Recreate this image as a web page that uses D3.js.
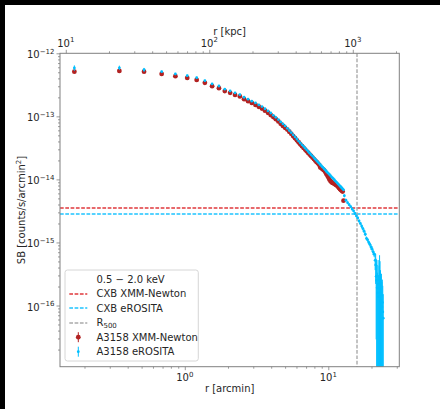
<!DOCTYPE html>
<html>
<head>
<meta charset="utf-8">
<script src="https://cdn.jsdelivr.net/npm/d3@7"></script>
<style>
  body { margin: 0; background: #fff; }
  svg { display: block; font-family: "DejaVu Sans", sans-serif; }
</style>
</head>
<body>
<svg id="chart" width="440" height="409"></svg>
<script>
// ---- surface brightness profile of A3158, 0.5-2.0 keV ----
// radii in arcmin, surface brightness in counts/s/arcmin^2, errors as fraction of value
const radiusXmm = [0.17,0.35,0.52,0.69,0.86,1.04,1.21,1.38,1.55,1.73,1.90,2.07,2.24,2.42,2.59,2.76,2.93,3.11,3.28,3.45,
  3.62,3.80,3.97,4.14,4.31,4.49,4.66,4.83,5.00,5.18,5.35,5.52,5.69,5.87,6.04,6.21,6.38,6.56,6.73,6.90,
  7.07,7.25,7.42,7.59,7.76,7.94,8.11,8.28,8.45,8.63,8.80,8.97,9.14,9.32,9.49,9.66,9.83,10.01,10.18,10.35,
  10.52,10.70,10.87,11.04,11.21,11.39,11.56,11.73,11.90,12.08,12.25,12.42,12.59,12.77];
const sbXmm = [5.12e-13,5.25e-13,5.12e-13,4.71e-13,4.34e-13,4.07e-13,3.78e-13,3.40e-13,3.01e-13,2.80e-13,
  2.52e-13,2.36e-13,2.19e-13,2.07e-13,1.87e-13,1.74e-13,1.63e-13,1.52e-13,1.42e-13,1.33e-13,
  1.23e-13,1.14e-13,1.05e-13,9.73e-14,9.02e-14,8.30e-14,7.60e-14,7.06e-14,6.58e-14,6.17e-14,
  5.70e-14,5.28e-14,4.86e-14,4.50e-14,4.17e-14,3.88e-14,3.60e-14,3.36e-14,3.16e-14,2.97e-14,
  2.79e-14,2.63e-14,2.48e-14,2.35e-14,2.22e-14,2.10e-14,1.99e-14,1.89e-14,1.80e-14,1.70e-14,
  1.55e-14,1.50e-14,1.45e-14,1.40e-14,1.33e-14,1.24e-14,1.16e-14,1.08e-14,1.00e-14,9.4e-15,
  9.1e-15,8.8e-15,8.7e-15,8.5e-15,8.3e-15,8.1e-15,7.9e-15,7.6e-15,7.3e-15,7.0e-15,
  6.8e-15,6.6e-15,6.4e-15,4.6e-15];
const errXmm = [0.02,0.02,0.02,0.02,0.02,0.02,0.02,0.02,0.02,0.02,0.02,0.02,0.02,0.02,0.02,0.02,0.02,0.02,0.02,0.02,
  0.02,0.02,0.02,0.02,0.02,0.02,0.02,0.02,0.02,0.02,0.02,0.02,0.02,0.02,0.02,0.02,0.02,0.02,0.02,0.02,
  0.02,0.02,0.02,0.02,0.02,0.02,0.02,0.02,0.02,0.02,0.03,0.03,0.03,0.03,0.03,0.03,0.03,0.03,0.03,0.03,
  0.03,0.03,0.05,0.05,0.05,0.05,0.05,0.05,0.05,0.05,0.05,0.05,0.05,0.05];

const radiusEro = radiusXmm.concat([12.94,13.28,13.63,13.97,14.32,14.66,15.01,15.35,15.70,16.04,
  16.39,16.73,17.08,17.42,17.77,18.11,18.46,18.80,19.15,19.49,19.84,20.18,20.53,20.87,
  21.21,21.39,21.56,21.73,21.90,22.08,22.25,22.42,22.59,22.77,22.94,23.11,23.28,23.46,23.63,23.80,23.97,24.15]);
const sbEro = [5.85e-13,5.89e-13,5.48e-13,5.11e-13,4.70e-13,4.42e-13,4.10e-13,3.68e-13,3.27e-13,3.03e-13,
  2.70e-13,2.53e-13,2.35e-13,2.21e-13,2.01e-13,1.87e-13,1.74e-13,1.63e-13,1.52e-13,1.43e-13,
  1.32e-13,1.22e-13,1.13e-13,1.04e-13,9.66e-14,8.89e-14,8.15e-14,7.57e-14,7.05e-14,6.46e-14,
  5.97e-14,5.53e-14,5.09e-14,4.71e-14,4.37e-14,4.06e-14,
  3.79e-14,3.54e-14,3.33e-14,3.13e-14,2.94e-14,2.77e-14,2.61e-14,2.47e-14,2.34e-14,2.21e-14,
  2.09e-14,1.99e-14,1.89e-14,1.80e-14,1.71e-14,1.63e-14,1.56e-14,1.49e-14,1.42e-14,1.36e-14,
  1.30e-14,1.25e-14,1.20e-14,1.15e-14,1.10e-14,1.06e-14,1.02e-14,9.79e-15,9.42e-15,9.06e-15,
  8.73e-15,8.43e-15,8.13e-15,7.83e-15,7.57e-15,7.31e-15,7.08e-15,6.83e-15,
  5.50e-15,4.68e-15,4.27e-15,3.98e-15,3.70e-15,3.39e-15,3.16e-15,2.88e-15,2.63e-15,2.45e-15,
  2.19e-15,2.00e-15,1.82e-15,1.66e-15,1.51e-15,1.35e-15,1.16e-15,1.10e-15,1.00e-15,9.3e-16,
  8.5e-16,7.9e-16,7.1e-16,6.5e-16,
  5.2e-16,4.4e-16,2.9e-16,2.5e-16,1.91e-16,1.58e-16,2.19e-16,1.38e-16,1.86e-16,2.51e-16,
  2.29e-16,1.58e-16,1.20e-16,1.45e-16,9.5e-17,1.12e-16,7.9e-17,6.3e-17];
const errEro = [0.10,0.08,0.07,0.04,0.04,0.04,0.04,0.03,0.03,0.03,0.03,0.03,0.03,0.03,0.03,0.03,0.02,0.02,0.02,0.02,
  0.02,0.02,0.02,0.02,0.02,0.02,0.02,0.02,0.02,0.02,0.02,0.02,0.02,0.02,0.02,0.02,0.02,0.02,0.02,0.02,
  0.02,0.02,0.02,0.02,0.02,0.02,0.02,0.02,0.02,0.02,0.02,0.02,0.02,0.02,0.02,0.02,0.02,0.02,0.02,0.02,
  0.03,0.03,0.03,0.03,0.03,0.03,0.03,0.03,0.03,0.03,0.03,0.03,0.03,0.03,
  0.05,0.05,0.05,0.05,0.05,0.05,0.05,0.05,0.05,0.05,0.05,0.05,
  0.07,0.07,0.07,0.07,0.07,0.07,0.07,0.07,0.10,0.10,0.10,0.10,
  0.3,0.5,0.9,1.1,1.3,1.1,1.4,1.2,1.3,1.5,1.2,1.3,1.4,1.2,1.5,1.3,1.6,1.4];

// background levels and characteristic radius
const cxbXmm = 3.56e-15;
const cxbEro = 2.86e-15;
const r500Arcmin = 15.8;
const kpcPerArcmin = 67.5;

// axis ranges and ticks
const arcminRange = [0.135, 31.25];
const sbRange = [1.07e-17, 1e-12];
const arcminMajor = [1, 10];
const arcminMinor = [0.2,0.3,0.4,0.5,0.6,0.7,0.8,0.9,2,3,4,5,6,7,8,9,20,30];
const kpcMajor = [10, 100, 1000];
const kpcMinor = [20,30,40,50,60,70,80,90,200,300,400,500,600,700,800,900,2000];
const sbMajor = [1e-12, 1e-13, 1e-14, 1e-15, 1e-16];
const sbMinor = [2e-17,3e-17,4e-17,5e-17,6e-17,7e-17,8e-17,9e-17,
  2e-16,3e-16,4e-16,5e-16,6e-16,7e-16,8e-16,9e-16,
  2e-15,3e-15,4e-15,5e-15,6e-15,7e-15,8e-15,9e-15,
  2e-14,3e-14,4e-14,5e-14,6e-14,7e-14,8e-14,9e-14,
  2e-13,3e-13,4e-13,5e-13,6e-13,7e-13,8e-13,9e-13];

const legendLabels = ["0.5 \u2212 2.0 keV", "CXB XMM-Newton", "CXB eROSITA", "R", "A3158 XMM-Newton", "A3158 eROSITA"];

// ---- drawing ----
const M = { left: 60, right: 399.3, top: 53.3, bottom: 366.7 };
const TEXT = "#262626", SPINE = "#808080";
const RED = "#b22222", BLUE = "#00bfff", CXB_RED = "#e0393c", CXB_BLUE = "#1ec4ff", GREY = "#aaaaaa";
const DASH = "3.7,1.6";

const svg = d3.select("#chart");
svg.append("rect").attr("width", 440).attr("height", 409).attr("fill", "#fff");
svg.append("rect").attr("x", 0).attr("y", 0).attr("width", 440).attr("height", 5).attr("fill", "#000");
svg.append("rect").attr("x", 0).attr("y", 0).attr("width", 5).attr("height", 409).attr("fill", "#000");

const x = d3.scaleLog().domain(arcminRange).range([M.left, M.right]);
const xTop = d3.scaleLog().domain(arcminRange.map(v => v * kpcPerArcmin)).range([M.left, M.right]);
const y = d3.scaleLog().domain(sbRange).range([M.bottom, M.top]);

function styleTicks(g) {
  g.select(".domain").remove();
  g.selectAll(".tick line").attr("stroke", SPINE).attr("stroke-width", 0.8);
}
function addAxis(axis, tx, ty) {
  const g = svg.append("g").attr("transform", `translate(${tx},${ty})`).call(axis);
  styleTicks(g);
  return g;
}
addAxis(d3.axisBottom(x).tickValues(arcminMajor).tickSize(3.5).tickFormat(""), 0, M.bottom);
addAxis(d3.axisBottom(x).tickValues(arcminMinor).tickSize(2).tickFormat(""), 0, M.bottom);
addAxis(d3.axisTop(xTop).tickValues(kpcMajor).tickSize(3.5).tickFormat(""), 0, M.top);
addAxis(d3.axisTop(xTop).tickValues(kpcMinor).tickSize(2).tickFormat(""), 0, M.top);
addAxis(d3.axisLeft(y).tickValues(sbMajor).tickSize(3.5).tickFormat(""), M.left, 0);
addAxis(d3.axisLeft(y).tickValues(sbMinor.filter(v => v >= sbRange[0])).tickSize(2).tickFormat(""), M.left, 0);

function powLabel(px, py, value, anchor) {
  const e = Math.round(Math.log10(value));
  const t = svg.append("text").attr("x", px).attr("y", py).attr("text-anchor", anchor)
    .attr("font-size", 10).attr("fill", TEXT);
  t.append("tspan").text("10");
  t.append("tspan").attr("dy", -4.2).attr("font-size", 7).text(e < 0 ? "\u2212" + (-e) : String(e));
}
arcminMajor.forEach(v => powLabel(x(v), 381, v, "middle"));
kpcMajor.forEach(v => powLabel(xTop(v), 46.5, v, "middle"));
sbMajor.forEach(v => powLabel(54.5, y(v) + 5, v, "end"));

// axis titles
svg.append("text").attr("x", (M.left + M.right) / 2).attr("y", 391.5).attr("text-anchor", "middle")
  .attr("font-size", 10).attr("fill", TEXT).text("r [arcmin]");
svg.append("text").attr("x", (M.left + M.right) / 2).attr("y", 34.5).attr("text-anchor", "middle")
  .attr("font-size", 10).attr("fill", TEXT).text("r [kpc]");
const yl = svg.append("text").attr("transform", `translate(25,${(M.top + M.bottom) / 2}) rotate(-90)`)
  .attr("text-anchor", "middle").attr("font-size", 10).attr("fill", TEXT);
yl.append("tspan").text("SB [counts/s/arcmin");
yl.append("tspan").attr("dy", -4).attr("font-size", 7).text("2");
yl.append("tspan").attr("dy", 4).text("]");

// plot area content
svg.append("clipPath").attr("id", "plotClip").append("rect")
  .attr("x", M.left).attr("y", M.top).attr("width", M.right - M.left).attr("height", M.bottom - M.top);
const plot = svg.append("g").attr("clip-path", "url(#plotClip)");

function hDashed(val, color) {
  const yy = Math.round(y(val));
  plot.append("line").attr("x1", M.left).attr("x2", M.right).attr("y1", yy).attr("y2", yy)
    .attr("stroke", color).attr("stroke-width", 1.4).attr("stroke-dasharray", DASH);
}
hDashed(cxbXmm, CXB_RED);
hDashed(cxbEro, CXB_BLUE);
plot.append("line").attr("x1", Math.round(x(r500Arcmin))).attr("x2", Math.round(x(r500Arcmin)))
  .attr("y1", M.top).attr("y2", M.bottom)
  .attr("stroke", GREY).attr("stroke-width", 1.4).attr("stroke-dasharray", DASH);

function drawSeries(radii, sb, err, color, rMarker) {
  const pts = radii.map((r, i) => ({ r, v: sb[i], e: sb[i] * err[i] }));
  const g = plot.append("g");
  g.selectAll("line").data(pts).join("line")
    .attr("x1", d => x(d.r)).attr("x2", d => x(d.r))
    .attr("y1", d => y(d.v + d.e))
    .attr("y2", d => d.v - d.e > sbRange[0] ? y(d.v - d.e) : M.bottom + 2)
    .attr("stroke", color).attr("stroke-width", 1);
  g.selectAll("circle").data(pts).join("circle")
    .attr("cx", d => x(d.r)).attr("cy", d => y(d.v)).attr("r", rMarker)
    .attr("fill", color);
}
drawSeries(radiusXmm, sbXmm, errXmm, RED, 2.4);
drawSeries(radiusEro, sbEro, errEro, BLUE, 1.4);

// frame
svg.append("rect").attr("x", M.left).attr("y", M.top).attr("width", M.right - M.left).attr("height", M.bottom - M.top)
  .attr("fill", "none").attr("stroke", SPINE).attr("stroke-width", 1);

// legend
const lg = svg.append("g");
lg.append("rect").attr("x", 65).attr("y", 270).attr("width", 133.3).attr("height", 91).attr("rx", 2.5)
  .attr("fill", "rgba(255,255,255,0.8)").attr("stroke", "#cccccc").attr("stroke-width", 0.8);
const rowY = i => 279.2 + i * 14.5;
const hx0 = 69.3, hx1 = 87.3, hxm = 78.3, tx = 96.5;
legendLabels.forEach((lab, i) => {
  const t = lg.append("text").attr("x", tx).attr("y", rowY(i) + 3.6).attr("font-size", 10).attr("fill", TEXT);
  t.append("tspan").text(lab);
  if (i === 3) t.append("tspan").attr("dy", 2).attr("font-size", 7).text("500");
});
[[1, CXB_RED], [2, CXB_BLUE], [3, GREY]].forEach(([i, c]) => {
  const yy = Math.round(rowY(i));
  lg.append("line").attr("x1", hx0).attr("x2", hx1).attr("y1", yy).attr("y2", yy)
    .attr("stroke", c).attr("stroke-width", 1.4).attr("stroke-dasharray", DASH);
});
[[4, RED, 2.4], [5, BLUE, 1.4]].forEach(([i, c, rm]) => {
  lg.append("line").attr("x1", hxm).attr("x2", hxm).attr("y1", rowY(i) - 5).attr("y2", rowY(i) + 5)
    .attr("stroke", c).attr("stroke-width", 1);
  lg.append("circle").attr("cx", hxm).attr("cy", rowY(i)).attr("r", rm).attr("fill", c);
});
</script>
</body>
</html>
